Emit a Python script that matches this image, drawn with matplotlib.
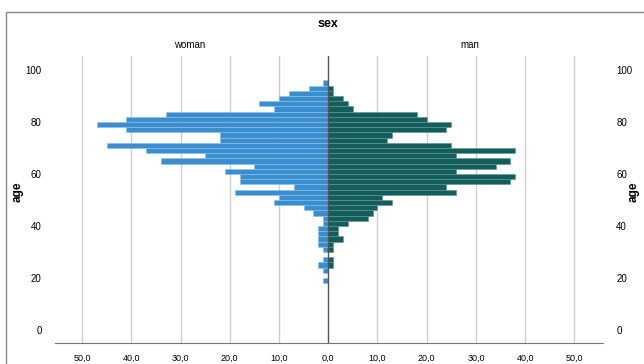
import numpy as np
import matplotlib
matplotlib.use("Agg")
import matplotlib.pyplot as plt
from matplotlib.patches import Rectangle

plt.rcParams['font.family'] = ['Liberation Sans', 'DejaVu Sans']

### Daten (Altersklassen zu je 2 Jahren, von oben nach unten)
ages  = np.arange(95, 17, -2)
woman = [1, 4, 8, 10, 14, 11, 33, 41, 47, 41, 22, 22, 45, 37, 25, 34, 15, 21, 18, 18,
         7, 19, 10, 11, 5, 3, 1, 1, 2, 2, 2, 2, 1, 0, 1, 2, 1, 0, 1]
man   = [0, 1, 1, 3, 4, 5, 18, 20, 25, 24, 13, 12, 25, 38, 26, 37, 34, 26, 38, 37,
         24, 26, 11, 13, 10, 9, 8, 4, 2, 2, 3, 1, 1, 0, 1, 1, 0, 0, 0]
xticks = [-50, -40, -30, -20, -10, 0, 10, 20, 30, 40, 50]
yticks = [0, 20, 40, 60, 80, 100]

blue  = "#3a8ed0"
green = "#135e5a"

fig = plt.figure(figsize=(6.44, 3.64), dpi=100)
ax = fig.add_axes([55/644, 1 - 343/364, 548/644, 287/364])

# Gitterlinien
for t in xticks:
	if t == 0:
		continue
	ax.axvline(t, color="#cfcfcf", lw=1.0, zorder=0)

ax.barh(ages, -np.array(woman), height=2.0, color=blue, edgecolor="#8fc0e6", linewidth=0.4, zorder=2)
ax.barh(ages, man, height=2.0, color=green, edgecolor="#5f9591", linewidth=0.4, zorder=2)
ax.axvline(0, color="#555555", lw=1.0, zorder=3)

ax.set_xlim(-55.5, 55.8)
ax.set_ylim(-5, 105.4)
ax.set_xticks(xticks)
ax.set_xticklabels(["%d,0" % abs(t) for t in xticks], fontsize=6.5)
ax.set_yticks(yticks)
ax.set_yticklabels([str(t) for t in yticks], fontsize=7)
ax.tick_params(axis='y', left=False, right=False, labelleft=True, labelright=True, pad=6)
ax.tick_params(axis='x', bottom=False, pad=4)
for s in ["top", "left", "right"]:
	ax.spines[s].set_visible(False)
ax.spines["bottom"].set_color("#777777")

# Texte
fig.text(328/644, 1 - 24/364, "sex", ha="center", va="center", fontsize=9, fontweight="bold")
fig.text(190/644, 1 - 45/364, "woman", ha="center", va="center", fontsize=7)
fig.text(470/644, 1 - 45/364, "man", ha="center", va="center", fontsize=7)
fig.text(18/644, 1 - 192/364, "age", ha="center", va="center", fontsize=8.5, fontweight="bold", rotation=90)
fig.text(634/644, 1 - 192/364, "age", ha="center", va="center", fontsize=8.5, fontweight="bold", rotation=90)

# Rahmen
fig.patches.append(Rectangle((6/644, -0.1), 1.0, 1 - 12/364 + 0.1, transform=fig.transFigure,
                             fill=False, edgecolor="#888888", lw=1.0))

fig.savefig("out.png", dpi=100)
